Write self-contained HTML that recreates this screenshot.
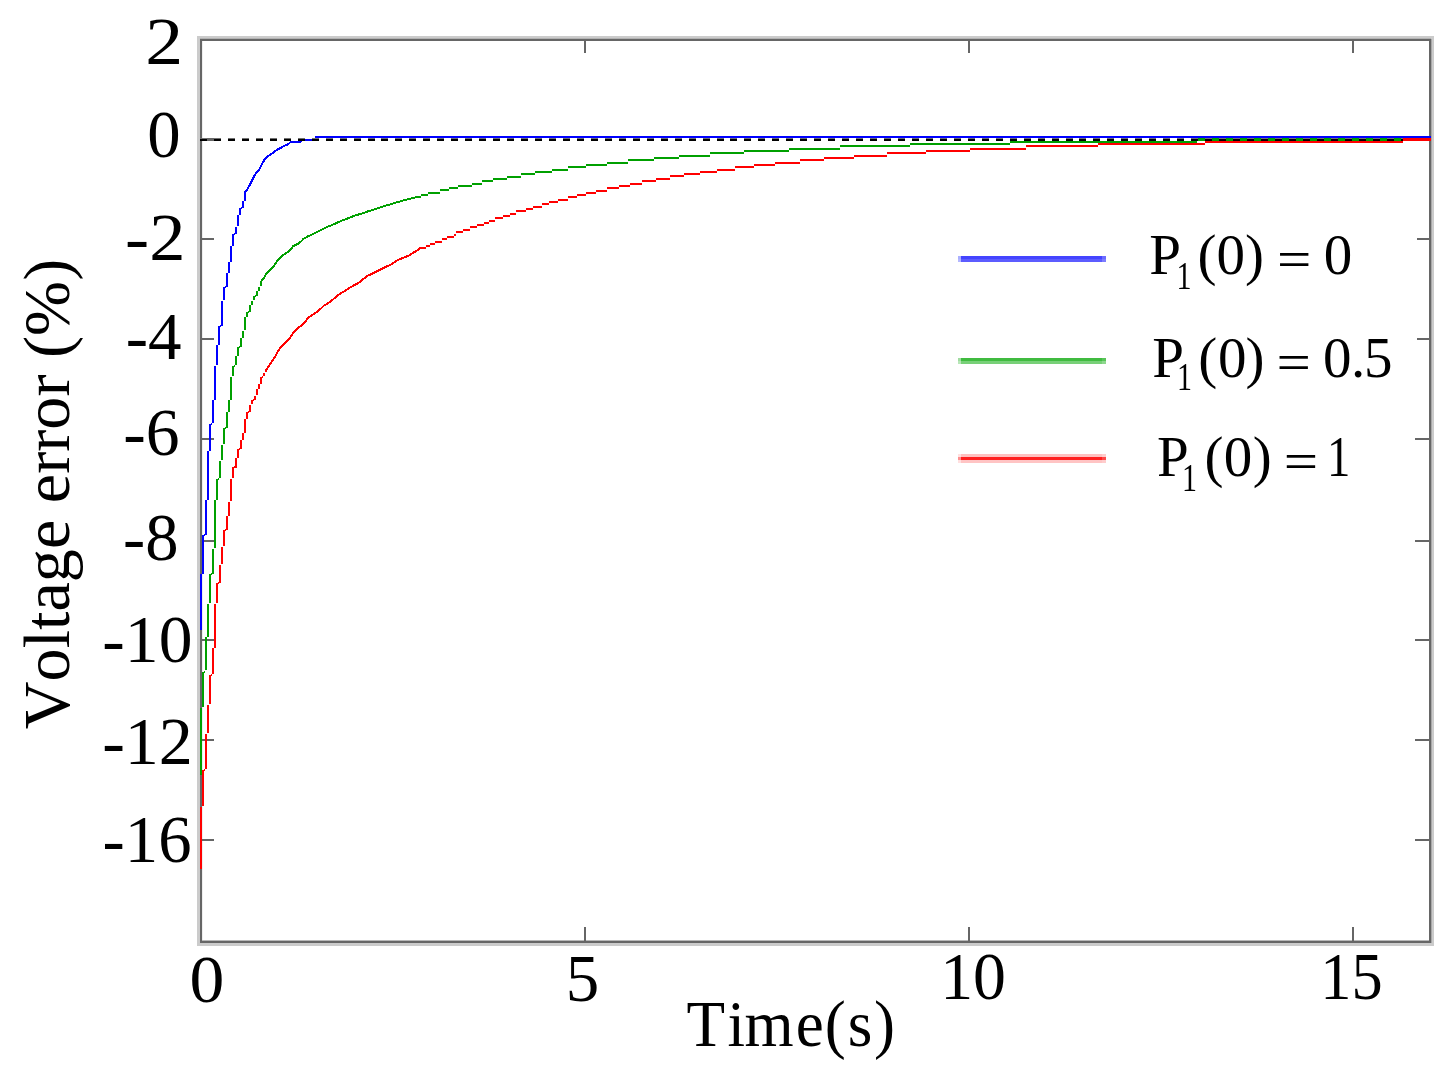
<!DOCTYPE html><html><head><meta charset="utf-8"><style>html,body{margin:0;padding:0;background:#fff;overflow:hidden}svg{display:block}text{font-family:"Liberation Serif",serif;fill:#000;filter:grayscale(1);font-kerning:none}</style></head><body>
<svg width="1453" height="1071" viewBox="0 0 1453 1071">
<rect x="0" y="0" width="1453" height="1071" fill="#fff"/>
<g fill="#cbcbcb" shape-rendering="crispEdges">
<rect x="197" y="36" width="1237" height="3"/><rect x="197" y="943" width="1237" height="3"/>
<rect x="197" y="36" width="3" height="910"/><rect x="1431" y="36" width="3" height="910"/>
</g>
<g shape-rendering="crispEdges">
<rect x="200" y="38" width="1231" height="1" fill="#b2b2b2"/>
<rect x="1431" y="39" width="1" height="904" fill="#a8a8a8"/>
<rect x="200" y="940" width="1231" height="1" fill="#b8b8b8"/>
<rect x="202" y="41" width="1" height="899" fill="#eeeeee"/>
</g>
<g fill="#666666" shape-rendering="crispEdges">
<rect x="200" y="39" width="1231" height="2"/><rect x="200" y="941" width="1231" height="2"/>
<rect x="200" y="39" width="2" height="904"/><rect x="1429" y="39" width="2" height="904"/>
<rect x="584" y="927" width="2" height="14"/><rect x="584" y="41" width="2" height="12"/>
<rect x="968" y="927" width="2" height="14"/><rect x="968" y="41" width="2" height="12"/>
<rect x="1352" y="927" width="2" height="14"/><rect x="1352" y="41" width="2" height="12"/>
<rect x="202" y="138" width="12" height="3"/>
<rect x="202" y="238" width="12" height="2"/><rect x="1417" y="238" width="12" height="2"/>
<rect x="202" y="338" width="12" height="2"/><rect x="1417" y="338" width="12" height="2"/>
<rect x="202" y="438" width="12" height="2"/><rect x="1415" y="438" width="14" height="2"/>
<rect x="202" y="540" width="12" height="2"/><rect x="1415" y="540" width="14" height="2"/>
<rect x="202" y="639" width="12" height="2"/><rect x="1415" y="639" width="14" height="2"/>
<rect x="202" y="739" width="12" height="2"/><rect x="1415" y="739" width="14" height="2"/>
<rect x="202" y="839" width="12" height="2"/><rect x="1415" y="839" width="14" height="2"/>
</g>
<g fill="#00a000" shape-rendering="crispEdges"><rect x="200" y="708" width="2" height="67"/><rect x="202" y="672" width="2" height="35"/><rect x="204" y="671" width="1" height="2"/><rect x="205" y="637" width="2" height="33"/><rect x="207" y="604" width="2" height="33"/><rect x="209" y="574" width="2" height="29"/><rect x="211" y="573" width="1" height="2"/><rect x="212" y="549" width="2" height="25"/><rect x="214" y="500" width="2" height="48"/><rect x="216" y="479" width="2" height="21"/><rect x="218" y="478" width="1" height="2"/><rect x="219" y="461" width="2" height="17"/><rect x="221" y="445" width="2" height="15"/><rect x="223" y="428" width="2" height="16"/><rect x="225" y="427" width="1" height="2"/><rect x="226" y="412" width="2" height="16"/><rect x="228" y="400" width="2" height="12"/><rect x="230" y="377" width="2" height="23"/><rect x="232" y="366" width="2" height="10"/><rect x="234" y="365" width="1" height="2"/><rect x="235" y="356" width="2" height="9"/><rect x="237" y="347" width="2" height="9"/><rect x="239" y="346" width="1" height="2"/><rect x="240" y="338" width="2" height="9"/><rect x="242" y="331" width="2" height="7"/><rect x="244" y="317" width="2" height="13"/><rect x="246" y="312" width="2" height="5"/><rect x="248" y="311" width="1" height="2"/><rect x="249" y="305" width="2" height="7"/><rect x="251" y="301" width="2" height="4"/><rect x="253" y="296" width="2" height="4"/><rect x="255" y="295" width="1" height="2"/><rect x="256" y="291" width="2" height="5"/><rect x="258" y="287" width="2" height="4"/><rect x="260" y="281" width="2" height="5"/></g>
<polyline points="261.4,280.6 263.7,278.2 266.1,274.0 268.4,271.7 270.8,269.4 273.1,267.0 275.4,263.8 277.8,260.0 280.1,257.7 282.4,255.4 286.2,253.0 289.4,250.7 291.8,247.9 293.2,246.0 297.8,244.0 301.1,241.4 303.4,239.0 307.2,236.7 311.8,234.6 316.5,232.2 321.2,229.9 325.5,227.6 331.5,225.2 337.0,222.8 342.5,220.3 348.5,218.2 354.6,215.7 361.3,213.7 368.5,211.2 375.2,209.1 382.5,206.6 390.4,204.3 398.3,201.9 406.8,199.5 415.9,197.3 420.0,196.9" fill="none" stroke="#00a000" stroke-width="2" stroke-linejoin="miter" stroke-linecap="butt" shape-rendering="crispEdges"/>
<g fill="#00a000" shape-rendering="crispEdges"><rect x="420" y="196" width="1" height="2"/><rect x="421" y="194" width="7" height="2"/><rect x="428" y="192" width="12" height="2"/><rect x="440" y="189" width="9" height="2"/><rect x="449" y="187" width="9" height="2"/><rect x="458" y="185" width="14" height="2"/><rect x="472" y="183" width="10" height="2"/><rect x="482" y="180" width="11" height="2"/><rect x="493" y="178" width="14" height="2"/><rect x="507" y="176" width="14" height="2"/><rect x="521" y="173" width="14" height="2"/><rect x="535" y="171" width="17" height="2"/><rect x="552" y="169" width="16" height="2"/><rect x="568" y="166" width="18" height="2"/><rect x="586" y="164" width="21" height="2"/><rect x="607" y="162" width="21" height="2"/><rect x="628" y="159" width="26" height="2"/><rect x="654" y="157" width="25" height="2"/><rect x="679" y="155" width="31" height="2"/><rect x="710" y="152" width="34" height="2"/><rect x="744" y="150" width="45" height="2"/><rect x="789" y="148" width="51" height="2"/><rect x="840" y="145" width="70" height="2"/><rect x="910" y="143" width="100" height="2"/><rect x="1010" y="141" width="187" height="2"/><rect x="1197" y="139" width="234" height="2"/></g>
<rect x="1197" y="138" width="234" height="1" fill="#00a000" shape-rendering="crispEdges"/>
<g fill="#0000ff" shape-rendering="crispEdges"><rect x="200" y="574" width="2" height="56"/><rect x="202" y="535" width="2" height="39"/><rect x="204" y="534" width="1" height="2"/><rect x="205" y="500" width="2" height="35"/><rect x="207" y="451" width="2" height="49"/><rect x="209" y="424" width="2" height="27"/><rect x="211" y="423" width="1" height="2"/><rect x="212" y="400" width="2" height="23"/><rect x="214" y="366" width="2" height="34"/><rect x="216" y="345" width="2" height="20"/><rect x="218" y="326" width="2" height="19"/><rect x="220" y="325" width="1" height="2"/><rect x="221" y="301" width="2" height="25"/><rect x="223" y="287" width="2" height="13"/><rect x="225" y="286" width="1" height="2"/><rect x="226" y="273" width="2" height="14"/><rect x="228" y="262" width="2" height="11"/><rect x="230" y="246" width="2" height="16"/><rect x="232" y="234" width="2" height="12"/><rect x="234" y="233" width="1" height="2"/><rect x="235" y="227" width="2" height="7"/><rect x="237" y="215" width="2" height="11"/><rect x="239" y="208" width="2" height="7"/><rect x="241" y="207" width="1" height="2"/><rect x="242" y="201" width="2" height="7"/><rect x="244" y="192" width="2" height="9"/></g>
<polyline points="245.1,192.3 247.4,189.2 249.9,184.6 252.1,180.1 254.6,175.5 257.0,171.9 259.1,169.8 261.5,165.2 264.0,160.3 266.1,157.9 268.5,155.8 272.2,153.4 275.5,150.9 278.8,148.8 283.4,146.4 288.3,144.0 290.7,142.0 299.8,142.0 302.2,140.0 315.6,140.0 316.4,137.0 1431.0,137.0" fill="none" stroke="#0000ff" stroke-width="2" stroke-linejoin="miter" stroke-linecap="butt" shape-rendering="crispEdges"/>
<g fill="#000" shape-rendering="crispEdges"><rect x="200.00" y="139" width="7.00" height="2"/><rect x="200.00" y="138" width="7.00" height="1" fill="#707070"/><rect x="213.96" y="139" width="7.00" height="2"/><rect x="213.96" y="138" width="7.00" height="1" fill="#707070"/><rect x="227.92" y="139" width="7.00" height="2"/><rect x="227.92" y="138" width="7.00" height="1" fill="#707070"/><rect x="241.88" y="139" width="7.00" height="2"/><rect x="241.88" y="138" width="7.00" height="1" fill="#707070"/><rect x="255.84" y="139" width="7.00" height="2"/><rect x="255.84" y="138" width="7.00" height="1" fill="#707070"/><rect x="269.80" y="139" width="7.00" height="2"/><rect x="269.80" y="138" width="7.00" height="1" fill="#707070"/><rect x="283.76" y="139" width="7.00" height="2"/><rect x="283.76" y="138" width="7.00" height="1" fill="#707070"/><rect x="297.72" y="139" width="7.00" height="2"/><rect x="297.72" y="138" width="7.00" height="1" fill="#707070"/><rect x="311.68" y="139" width="7.00" height="2"/><rect x="311.68" y="138" width="7.00" height="1" fill="#707070"/><rect x="325.64" y="139" width="7.00" height="2"/><rect x="325.64" y="138" width="7.00" height="1" fill="#707070"/><rect x="339.60" y="139" width="7.00" height="2"/><rect x="339.60" y="138" width="7.00" height="1" fill="#707070"/><rect x="353.56" y="139" width="7.00" height="2"/><rect x="353.56" y="138" width="7.00" height="1" fill="#707070"/><rect x="367.52" y="139" width="7.00" height="2"/><rect x="367.52" y="138" width="7.00" height="1" fill="#707070"/><rect x="381.48" y="139" width="7.00" height="2"/><rect x="381.48" y="138" width="7.00" height="1" fill="#707070"/><rect x="395.44" y="139" width="7.00" height="2"/><rect x="395.44" y="138" width="7.00" height="1" fill="#707070"/><rect x="409.40" y="139" width="7.00" height="2"/><rect x="409.40" y="138" width="7.00" height="1" fill="#707070"/><rect x="423.36" y="139" width="7.00" height="2"/><rect x="423.36" y="138" width="7.00" height="1" fill="#707070"/><rect x="437.32" y="139" width="7.00" height="2"/><rect x="437.32" y="138" width="7.00" height="1" fill="#707070"/><rect x="451.28" y="139" width="7.00" height="2"/><rect x="451.28" y="138" width="7.00" height="1" fill="#707070"/><rect x="465.24" y="139" width="7.00" height="2"/><rect x="465.24" y="138" width="7.00" height="1" fill="#707070"/><rect x="479.20" y="139" width="7.00" height="2"/><rect x="479.20" y="138" width="7.00" height="1" fill="#707070"/><rect x="493.16" y="139" width="7.00" height="2"/><rect x="493.16" y="138" width="7.00" height="1" fill="#707070"/><rect x="507.12" y="139" width="7.00" height="2"/><rect x="507.12" y="138" width="7.00" height="1" fill="#707070"/><rect x="521.08" y="139" width="7.00" height="2"/><rect x="521.08" y="138" width="7.00" height="1" fill="#707070"/><rect x="535.04" y="139" width="7.00" height="2"/><rect x="535.04" y="138" width="7.00" height="1" fill="#707070"/><rect x="549.00" y="139" width="7.00" height="2"/><rect x="549.00" y="138" width="7.00" height="1" fill="#707070"/><rect x="562.96" y="139" width="7.00" height="2"/><rect x="562.96" y="138" width="7.00" height="1" fill="#707070"/><rect x="576.92" y="139" width="7.00" height="2"/><rect x="576.92" y="138" width="7.00" height="1" fill="#707070"/><rect x="590.88" y="139" width="7.00" height="2"/><rect x="590.88" y="138" width="7.00" height="1" fill="#707070"/><rect x="604.84" y="139" width="7.00" height="2"/><rect x="604.84" y="138" width="7.00" height="1" fill="#707070"/><rect x="618.80" y="139" width="7.00" height="2"/><rect x="618.80" y="138" width="7.00" height="1" fill="#707070"/><rect x="632.76" y="139" width="7.00" height="2"/><rect x="632.76" y="138" width="7.00" height="1" fill="#707070"/><rect x="646.72" y="139" width="7.00" height="2"/><rect x="646.72" y="138" width="7.00" height="1" fill="#707070"/><rect x="660.68" y="139" width="7.00" height="2"/><rect x="660.68" y="138" width="7.00" height="1" fill="#707070"/><rect x="674.64" y="139" width="7.00" height="2"/><rect x="674.64" y="138" width="7.00" height="1" fill="#707070"/><rect x="688.60" y="139" width="7.00" height="2"/><rect x="688.60" y="138" width="7.00" height="1" fill="#707070"/><rect x="702.56" y="139" width="7.00" height="2"/><rect x="702.56" y="138" width="7.00" height="1" fill="#707070"/><rect x="716.52" y="139" width="7.00" height="2"/><rect x="716.52" y="138" width="7.00" height="1" fill="#707070"/><rect x="730.48" y="139" width="7.00" height="2"/><rect x="730.48" y="138" width="7.00" height="1" fill="#707070"/><rect x="744.44" y="139" width="7.00" height="2"/><rect x="744.44" y="138" width="7.00" height="1" fill="#707070"/><rect x="758.40" y="139" width="7.00" height="2"/><rect x="758.40" y="138" width="7.00" height="1" fill="#707070"/><rect x="772.36" y="139" width="7.00" height="2"/><rect x="772.36" y="138" width="7.00" height="1" fill="#707070"/><rect x="786.32" y="139" width="7.00" height="2"/><rect x="786.32" y="138" width="7.00" height="1" fill="#707070"/><rect x="800.28" y="139" width="7.00" height="2"/><rect x="800.28" y="138" width="7.00" height="1" fill="#707070"/><rect x="814.24" y="139" width="7.00" height="2"/><rect x="814.24" y="138" width="7.00" height="1" fill="#707070"/><rect x="828.20" y="139" width="7.00" height="2"/><rect x="828.20" y="138" width="7.00" height="1" fill="#707070"/><rect x="842.16" y="139" width="7.00" height="2"/><rect x="842.16" y="138" width="7.00" height="1" fill="#707070"/><rect x="856.12" y="139" width="7.00" height="2"/><rect x="856.12" y="138" width="7.00" height="1" fill="#707070"/><rect x="870.08" y="139" width="7.00" height="2"/><rect x="870.08" y="138" width="7.00" height="1" fill="#707070"/><rect x="884.04" y="139" width="7.00" height="2"/><rect x="884.04" y="138" width="7.00" height="1" fill="#707070"/><rect x="898.00" y="139" width="7.00" height="2"/><rect x="898.00" y="138" width="7.00" height="1" fill="#707070"/><rect x="911.96" y="139" width="7.00" height="2"/><rect x="911.96" y="138" width="7.00" height="1" fill="#707070"/><rect x="925.92" y="139" width="7.00" height="2"/><rect x="925.92" y="138" width="7.00" height="1" fill="#707070"/><rect x="939.88" y="139" width="7.00" height="2"/><rect x="939.88" y="138" width="7.00" height="1" fill="#707070"/><rect x="953.84" y="139" width="7.00" height="2"/><rect x="953.84" y="138" width="7.00" height="1" fill="#707070"/><rect x="967.80" y="139" width="7.00" height="2"/><rect x="967.80" y="138" width="7.00" height="1" fill="#707070"/><rect x="981.76" y="139" width="7.00" height="2"/><rect x="981.76" y="138" width="7.00" height="1" fill="#707070"/><rect x="995.72" y="139" width="7.00" height="2"/><rect x="995.72" y="138" width="7.00" height="1" fill="#707070"/><rect x="1009.68" y="139" width="7.00" height="2"/><rect x="1009.68" y="138" width="7.00" height="1" fill="#707070"/><rect x="1023.64" y="139" width="7.00" height="2"/><rect x="1023.64" y="138" width="7.00" height="1" fill="#707070"/><rect x="1037.60" y="139" width="7.00" height="2"/><rect x="1037.60" y="138" width="7.00" height="1" fill="#707070"/><rect x="1051.56" y="139" width="7.00" height="2"/><rect x="1051.56" y="138" width="7.00" height="1" fill="#707070"/><rect x="1065.52" y="139" width="7.00" height="2"/><rect x="1065.52" y="138" width="7.00" height="1" fill="#707070"/><rect x="1079.48" y="139" width="7.00" height="2"/><rect x="1079.48" y="138" width="7.00" height="1" fill="#707070"/><rect x="1093.44" y="139" width="7.00" height="2"/><rect x="1093.44" y="138" width="7.00" height="1" fill="#707070"/><rect x="1107.40" y="139" width="7.00" height="2"/><rect x="1107.40" y="138" width="7.00" height="1" fill="#707070"/><rect x="1121.36" y="139" width="7.00" height="2"/><rect x="1121.36" y="138" width="7.00" height="1" fill="#707070"/><rect x="1135.32" y="139" width="7.00" height="2"/><rect x="1135.32" y="138" width="7.00" height="1" fill="#707070"/><rect x="1149.28" y="139" width="7.00" height="2"/><rect x="1149.28" y="138" width="7.00" height="1" fill="#707070"/><rect x="1163.24" y="139" width="7.00" height="2"/><rect x="1163.24" y="138" width="7.00" height="1" fill="#707070"/><rect x="1177.20" y="139" width="7.00" height="2"/><rect x="1177.20" y="138" width="7.00" height="1" fill="#707070"/><rect x="1191.16" y="139" width="7.00" height="2"/><rect x="1191.16" y="138" width="7.00" height="1" fill="#707070"/><rect x="1205.12" y="139" width="7.00" height="2"/><rect x="1205.12" y="138" width="7.00" height="1" fill="#707070"/><rect x="1219.08" y="139" width="7.00" height="2"/><rect x="1219.08" y="138" width="7.00" height="1" fill="#707070"/><rect x="1233.04" y="139" width="7.00" height="2"/><rect x="1233.04" y="138" width="7.00" height="1" fill="#707070"/><rect x="1247.00" y="139" width="7.00" height="2"/><rect x="1247.00" y="138" width="7.00" height="1" fill="#707070"/><rect x="1260.96" y="139" width="7.00" height="2"/><rect x="1260.96" y="138" width="7.00" height="1" fill="#707070"/><rect x="1274.92" y="139" width="7.00" height="2"/><rect x="1274.92" y="138" width="7.00" height="1" fill="#707070"/><rect x="1288.88" y="139" width="7.00" height="2"/><rect x="1288.88" y="138" width="7.00" height="1" fill="#707070"/><rect x="1302.84" y="139" width="7.00" height="2"/><rect x="1302.84" y="138" width="7.00" height="1" fill="#707070"/><rect x="1316.80" y="139" width="7.00" height="2"/><rect x="1316.80" y="138" width="7.00" height="1" fill="#707070"/><rect x="1330.76" y="139" width="7.00" height="2"/><rect x="1330.76" y="138" width="7.00" height="1" fill="#707070"/><rect x="1344.72" y="139" width="7.00" height="2"/><rect x="1344.72" y="138" width="7.00" height="1" fill="#707070"/><rect x="1358.68" y="139" width="7.00" height="2"/><rect x="1358.68" y="138" width="7.00" height="1" fill="#707070"/><rect x="1372.64" y="139" width="7.00" height="2"/><rect x="1372.64" y="138" width="7.00" height="1" fill="#707070"/><rect x="1386.60" y="139" width="7.00" height="2"/><rect x="1386.60" y="138" width="7.00" height="1" fill="#707070"/><rect x="1400.56" y="139" width="7.00" height="2"/><rect x="1400.56" y="138" width="7.00" height="1" fill="#707070"/><rect x="1414.52" y="139" width="7.00" height="2"/><rect x="1414.52" y="138" width="7.00" height="1" fill="#707070"/><rect x="1428.48" y="139" width="2.52" height="2"/><rect x="1428.48" y="138" width="2.52" height="1" fill="#707070"/></g>
<g fill="#ff0000" shape-rendering="crispEdges"><rect x="200" y="807" width="2" height="62"/><rect x="202" y="770" width="2" height="36"/><rect x="204" y="769" width="1" height="2"/><rect x="205" y="734" width="2" height="35"/><rect x="207" y="705" width="2" height="28"/><rect x="209" y="675" width="2" height="29"/><rect x="211" y="674" width="1" height="2"/><rect x="212" y="648" width="2" height="26"/><rect x="214" y="604" width="2" height="44"/><rect x="216" y="583" width="2" height="20"/><rect x="218" y="582" width="1" height="2"/><rect x="219" y="565" width="2" height="18"/><rect x="221" y="547" width="2" height="17"/><rect x="223" y="530" width="2" height="16"/><rect x="225" y="529" width="1" height="2"/><rect x="226" y="516" width="2" height="14"/><rect x="228" y="502" width="2" height="14"/><rect x="230" y="479" width="2" height="22"/><rect x="232" y="467" width="2" height="11"/><rect x="234" y="466" width="1" height="2"/><rect x="235" y="458" width="2" height="10"/><rect x="237" y="449" width="2" height="9"/><rect x="239" y="448" width="1" height="2"/><rect x="240" y="440" width="2" height="9"/><rect x="242" y="433" width="2" height="7"/><rect x="244" y="419" width="2" height="14"/><rect x="246" y="412" width="2" height="7"/><rect x="248" y="411" width="1" height="2"/><rect x="249" y="405" width="2" height="7"/><rect x="251" y="400" width="2" height="4"/><rect x="253" y="399" width="1" height="2"/><rect x="254" y="396" width="2" height="4"/><rect x="256" y="389" width="2" height="6"/><rect x="258" y="384" width="2" height="5"/><rect x="260" y="377" width="2" height="7"/><rect x="262" y="376" width="1" height="2"/><rect x="263" y="373" width="2" height="3"/><rect x="265" y="370" width="2" height="2"/></g>
<polyline points="266.2,370.0 268.4,366.8 270.8,363.1 273.1,359.8 275.4,356.1 277.8,351.4 280.1,348.2 282.4,345.8 284.8,343.5 287.1,341.2 289.4,338.8 291.8,335.1 294.1,331.8 296.4,329.5 298.8,327.2 302.5,324.8 305.8,321.1 308.1,317.8 311.8,315.5 315.1,313.1 318.4,310.8 321.2,308.3 323.6,305.9 330.3,301.7 338.8,294.6 346.1,290.1 353.4,285.5 358.2,283.1 367.3,275.9 372.2,273.7 376.4,271.6 381.3,269.1 386.1,266.8 391.0,264.4 397.7,260.1 403.7,257.7 409.2,255.3 417.1,250.4 420.0,248.1" fill="none" stroke="#ff0000" stroke-width="2" stroke-linejoin="miter" stroke-linecap="butt" shape-rendering="crispEdges"/>
<g fill="#ff0000" shape-rendering="crispEdges"><rect x="420" y="247" width="6" height="2"/><rect x="426" y="245" width="4" height="2"/><rect x="430" y="243" width="5" height="2"/><rect x="435" y="241" width="7" height="2"/><rect x="442" y="238" width="5" height="2"/><rect x="447" y="236" width="7" height="2"/><rect x="454" y="234" width="2" height="2"/><rect x="456" y="231" width="7" height="2"/><rect x="463" y="229" width="7" height="2"/><rect x="470" y="226" width="7" height="2"/><rect x="477" y="224" width="7" height="2"/><rect x="484" y="222" width="5" height="2"/><rect x="489" y="220" width="6" height="2"/><rect x="495" y="217" width="8" height="2"/><rect x="503" y="215" width="7" height="2"/><rect x="510" y="213" width="6" height="2"/><rect x="516" y="210" width="10" height="2"/><rect x="526" y="208" width="7" height="2"/><rect x="533" y="206" width="9" height="2"/><rect x="542" y="203" width="7" height="2"/><rect x="549" y="201" width="9" height="2"/><rect x="558" y="199" width="10" height="2"/><rect x="568" y="196" width="9" height="2"/><rect x="577" y="194" width="9" height="2"/><rect x="586" y="192" width="10" height="2"/><rect x="596" y="190" width="11" height="2"/><rect x="607" y="187" width="12" height="2"/><rect x="619" y="185" width="11" height="2"/><rect x="630" y="183" width="12" height="2"/><rect x="642" y="180" width="14" height="2"/><rect x="656" y="178" width="14" height="2"/><rect x="670" y="175" width="14" height="2"/><rect x="684" y="173" width="16" height="2"/><rect x="700" y="171" width="17" height="2"/><rect x="717" y="169" width="18" height="2"/><rect x="735" y="166" width="19" height="2"/><rect x="754" y="164" width="21" height="2"/><rect x="775" y="162" width="25" height="2"/><rect x="800" y="159" width="24" height="2"/><rect x="824" y="157" width="30" height="2"/><rect x="854" y="155" width="33" height="2"/><rect x="887" y="152" width="39" height="2"/><rect x="926" y="150" width="44" height="2"/><rect x="970" y="148" width="56" height="2"/><rect x="1026" y="145" width="72" height="2"/><rect x="1098" y="143" width="107" height="2"/><rect x="1205" y="141" width="198" height="2"/><rect x="1403" y="139" width="28" height="2"/></g>
<rect x="1403" y="138" width="28" height="1" fill="#ff0000" shape-rendering="crispEdges"/>
<g shape-rendering="crispEdges"><rect x="958" y="256" width="3" height="3" fill="#aab0ff"/><rect x="961" y="256" width="141" height="3" fill="#4444ff"/><rect x="1102" y="256" width="4" height="3" fill="#6c6cff"/><rect x="958" y="259" width="3" height="3" fill="#b4b8ff"/><rect x="961" y="259" width="141" height="3" fill="#5c5cff"/><rect x="1102" y="259" width="4" height="3" fill="#7c7cff"/></g>
<g shape-rendering="crispEdges"><rect x="958" y="358" width="3" height="3" fill="#a0dca0"/><rect x="961" y="358" width="141" height="3" fill="#40bb40"/><rect x="1102" y="358" width="4" height="3" fill="#58c458"/><rect x="958" y="361" width="3" height="3" fill="#b8e6b8"/><rect x="961" y="361" width="141" height="3" fill="#78d078"/><rect x="1102" y="361" width="4" height="3" fill="#8ed88e"/></g>
<g shape-rendering="crispEdges"><rect x="958" y="454" width="3" height="3" fill="#ffe0e0"/><rect x="961" y="454" width="141" height="3" fill="#ffc0c0"/><rect x="1102" y="454" width="4" height="3" fill="#ffcccc"/><rect x="958" y="457" width="3" height="3" fill="#ff9090"/><rect x="961" y="457" width="141" height="3" fill="#ff2020"/><rect x="1102" y="457" width="4" height="3" fill="#ff4848"/><rect x="958" y="460" width="3" height="3" fill="#ffe0e0"/><rect x="961" y="460" width="141" height="3" fill="#ffc4c4"/><rect x="1102" y="460" width="4" height="3" fill="#ffcccc"/></g>
<g transform="matrix(1.1308,0,0,1,-22.51,0)"><text x="181.9" y="63.9" font-size="67" text-anchor="end">2</text></g>
<g transform="matrix(0.9964,0,0,1,0.93,0)"><text x="180.3" y="157.2" font-size="67" text-anchor="end">0</text></g>
<g transform="matrix(1.0813,0,0,1,-13.68,0)"><text x="184.1" y="260.5" font-size="67" text-anchor="end">-2</text></g>
<g transform="matrix(1.0000,0,0,1,-0.40,0)"><text x="182.0" y="359" font-size="67" text-anchor="end">-4</text></g>
<g transform="matrix(1.0098,0,0,1,-2.55,0)"><text x="180.4" y="454.6" font-size="67" text-anchor="end">-6</text></g>
<g transform="matrix(0.9940,0,0,1,-0.44,0)"><text x="180.0" y="559.8" font-size="67" text-anchor="end">-8</text></g>
<g transform="matrix(1.0084,0,0,1,-0.89,0)"><text x="191.7" y="662" font-size="67" text-anchor="end">-10</text></g>
<g transform="matrix(1.0159,0,0,1,-2.69,0)"><text x="192.5" y="764.5" font-size="67" text-anchor="end">-12</text></g>
<g transform="matrix(0.9964,0,0,1,0.38,0)"><text x="191.9" y="862" font-size="67" text-anchor="end">-16</text></g>
<g transform="matrix(1.0407,0,0,1,-8.48,0)"><text x="207.0" y="1002.3" font-size="67" text-anchor="middle">0</text></g>
<g transform="matrix(1.0000,0,0,1,-0.50,0)"><text x="583.0" y="1000.5" font-size="67" text-anchor="middle">5</text></g>
<g transform="matrix(0.9828,0,0,1,16.80,0)"><text x="973.0" y="999.2" font-size="67" text-anchor="middle">10</text></g>
<g transform="matrix(0.9310,0,0,1,93.58,0)"><text x="1351.2" y="999.5" font-size="67" text-anchor="middle">15</text></g>
<text transform="translate(686.46,1045.7) scale(0.95,1)" font-size="66.5">T</text>
<text transform="translate(727.47,1045.7) scale(0.95,1)" font-size="66.5">i</text>
<text transform="translate(744.57,1045.7) scale(0.95,1)" font-size="66.5">m</text>
<text transform="translate(795.63,1045.7) scale(0.95,1)" font-size="66.5">e</text>
<text transform="translate(824.83,1045.7) scale(0.95,1)" font-size="66.5">(</text>
<text transform="translate(847.71,1045.7) scale(0.95,1)" font-size="66.5">s</text>
<text transform="translate(874.07,1045.7) scale(0.95,1)" font-size="66.5">)</text>
<text transform="translate(69,729.2) rotate(-90)" font-size="66.2">Voltage error (%)</text>
<text x="1149.2" y="273.8" font-size="57">P</text>
<text transform="translate(1176.4,288.6) scale(0.75,1)" font-size="40" opacity="0.999">1</text>
<text x="1197.5" y="273.8" font-size="57">(</text>
<text x="1216.5" y="273.8" font-size="57">0</text>
<text x="1244.9" y="273.8" font-size="57">)</text>
<text transform="translate(1277.0,277.1) scale(1.07,0.92)" font-size="57">=</text>
<text x="1323.8" y="273.8" font-size="57">0</text>
<text x="1152.3" y="376.9" font-size="57">P</text>
<text transform="translate(1177.1,390.3) scale(0.75,1)" font-size="40" opacity="0.999">1</text>
<text x="1198.3" y="376.9" font-size="57">(</text>
<text x="1218.0" y="376.9" font-size="57">0</text>
<text x="1245.6" y="376.9" font-size="57">)</text>
<text transform="translate(1276.6,380.2) scale(1.07,0.92)" font-size="57">=</text>
<text x="1323.0" y="376.9" font-size="57">0</text>
<text x="1350.9" y="376.9" font-size="57">.</text>
<text x="1364.0" y="376.9" font-size="57">5</text>
<text x="1157.1" y="475.8" font-size="57">P</text>
<text transform="translate(1182.1,490.7) scale(0.75,1)" font-size="40" opacity="0.999">1</text>
<text x="1204.6" y="475.8" font-size="57">(</text>
<text x="1223.7" y="475.8" font-size="57">0</text>
<text x="1252.7" y="475.8" font-size="57">)</text>
<text transform="translate(1283.7,479.1) scale(1.07,0.92)" font-size="57">=</text>
<text transform="translate(1327.0,475.8) scale(0.82,1)" font-size="57">1</text>
</svg></body></html>
